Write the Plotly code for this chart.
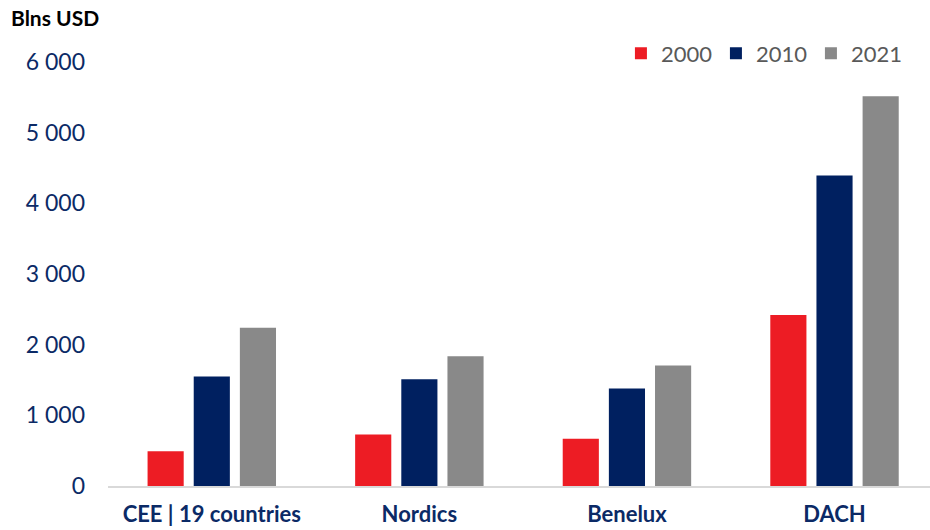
import plotly.graph_objects as go

# GDP by region, bln USD
regions = ["CEE | 19 countries", "Nordics", "Benelux", "DACH"]
years = ["2000", "2010", "2021"]
values_2000 = [490, 730, 670, 2420]
values_2010 = [1550, 1510, 1380, 4395]
values_2021 = [2240, 1835, 1705, 5515]
series = [values_2000, values_2010, values_2021]
colors = ["#ED1C24", "#002060", "#898989"]

NAVY = "#0B2A66"
FONT = "Lato"

fig = go.Figure()
for year, vals, col in zip(years, series, colors):
    fig.add_trace(go.Bar(
        x=regions,
        y=vals,
        name=year,
        marker=dict(color=col, line=dict(width=0)),
    ))

fig.update_layout(
    width=930,
    height=530,
    barmode="group",
    bargap=0.333,
    bargroupgap=0.217,
    plot_bgcolor="white",
    paper_bgcolor="white",
    separators=", ",
    margin=dict(l=108, r=0, t=62, b=44, autoexpand=False),
    font=dict(family=FONT, color=NAVY),
    showlegend=True,
    legend=dict(
        orientation="h",
        x=0.624, xanchor="left",
        y=1.02, yanchor="middle",
        font=dict(size=22, color="#595959", family=FONT),
        itemwidth=30,
        entrywidth=50,
        bgcolor="rgba(0,0,0,0)",
    ),
    annotations=[dict(
        text="<b>Blns USD</b>",
        xref="paper", yref="paper",
        x=-0.12, y=1.104,
        xanchor="left", yanchor="middle",
        showarrow=False,
        font=dict(size=21, color="black", family=FONT),
    )],
)

fig.update_xaxes(
    range=[-0.5, 3.46],
    showline=True,
    linecolor="#D9D9D9",
    linewidth=2,
    showgrid=False,
    ticks="",
    tickfont=dict(size=22, color=NAVY, family=FONT),
    ticklabelstandoff=8,
    tickvals=regions,
    ticktext=["<b>" + r + "</b>" for r in regions],
)
fig.update_yaxes(
    range=[0, 6000],
    tickvals=[0, 1000, 2000, 3000, 4000, 5000, 6000],
    tickformat=",d",
    showgrid=False,
    zeroline=False,
    showline=False,
    ticks="",
    ticklabelstandoff=22,
    tickfont=dict(size=23, color=NAVY, family=FONT),
)

fig.write_html(
    "out.html",
    config={"displayModeBar": False},
    post_script="document.body.style.margin='0';document.body.style.overflow='hidden';",
)
